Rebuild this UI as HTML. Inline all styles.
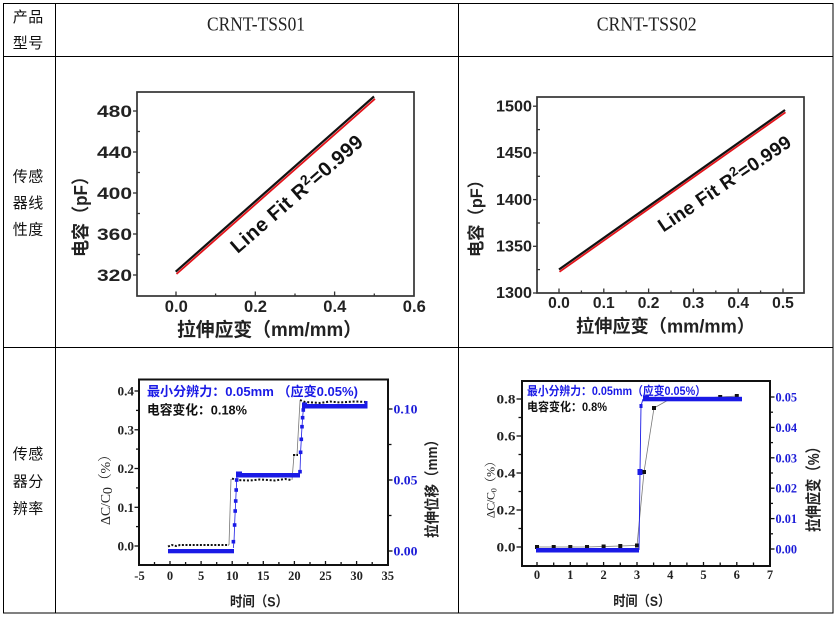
<!DOCTYPE html>
<html><head><meta charset="utf-8"><style>
html,body{margin:0;padding:0;background:#fff;}
svg{display:block;}
.s{font-family:"Liberation Sans","Noto Sans CJK SC",sans-serif;}
.b{font-weight:bold;}
.t{font-family:"Liberation Serif","Noto Serif CJK SC",serif;}
.c{font-family:"Noto Sans CJK SC","Liberation Sans",sans-serif;}
</style></head><body>
<svg width="837" height="617" viewBox="0 0 837 617" xmlns="http://www.w3.org/2000/svg">
<rect width="837" height="617" fill="#fff"/>
<!-- table -->
<g stroke="#000" stroke-width="1" fill="none">
<rect x="3.5" y="3.5" width="829.5" height="609.5"/>
<line x1="55.5" y1="3" x2="55.5" y2="613"/>
<line x1="458.5" y1="3" x2="458.5" y2="613"/>
<line x1="3" y1="56.5" x2="833" y2="56.5"/>
<line x1="3" y1="347.5" x2="833" y2="347.5"/>
</g>
<!-- left column -->
<g class="c" font-size="15" fill="#111">
<text x="12.7" y="22" textLength="30.6">产品</text>
<text x="12.7" y="48" textLength="30.6">型号</text>
<text x="12.7" y="181.5" textLength="30.6">传感</text>
<text x="12.7" y="208" textLength="30.6">器线</text>
<text x="12.7" y="234.5" textLength="30.6">性度</text>
<text x="12.7" y="459" textLength="30.6">传感</text>
<text x="12.7" y="486.5" textLength="30.6">器分</text>
<text x="12.7" y="513.5" textLength="30.6">辨率</text>
</g>
<!-- headers -->
<g class="t" font-size="20" fill="#222" text-anchor="middle">
<text x="256" y="30.5" textLength="98" lengthAdjust="spacingAndGlyphs">CRNT-TSS01</text>
<text x="646.7" y="30.5" textLength="100" lengthAdjust="spacingAndGlyphs">CRNT-TSS02</text>
</g>

<!-- ============ Chart 1 ============ -->
<rect x="137" y="92" width="277" height="204" fill="none" stroke="#333" stroke-width="1.7"/>
<g stroke="#333" stroke-width="1.3">
<line x1="176" y1="296" x2="176" y2="291.5"/>
<line x1="255.3" y1="296" x2="255.3" y2="291.5"/>
<line x1="334.6" y1="296" x2="334.6" y2="291.5"/>
<line x1="215.6" y1="296" x2="215.6" y2="293.5"/>
<line x1="295" y1="296" x2="295" y2="293.5"/>
<line x1="374.3" y1="296" x2="374.3" y2="293.5"/>
<line x1="133" y1="111" x2="137" y2="111"/>
<line x1="133" y1="152" x2="137" y2="152"/>
<line x1="133" y1="193" x2="137" y2="193"/>
<line x1="133" y1="234" x2="137" y2="234"/>
<line x1="133" y1="275" x2="137" y2="275"/>
<line x1="137" y1="131.5" x2="140" y2="131.5"/>
<line x1="137" y1="172.5" x2="140" y2="172.5"/>
<line x1="137" y1="213.5" x2="140" y2="213.5"/>
<line x1="137" y1="254.5" x2="140" y2="254.5"/>
</g>
<line x1="175.7" y1="271.7" x2="374" y2="96.5" stroke="#111" stroke-width="2.2"/>
<line x1="176.5" y1="274" x2="375" y2="98.8" stroke="#e3141b" stroke-width="1.8"/>
<g class="s b" font-size="17" fill="#222" text-anchor="end">
<text x="132" y="117" textLength="35" lengthAdjust="spacingAndGlyphs">480</text>
<text x="132" y="158" textLength="35" lengthAdjust="spacingAndGlyphs">440</text>
<text x="132" y="199" textLength="35" lengthAdjust="spacingAndGlyphs">400</text>
<text x="132" y="240" textLength="35" lengthAdjust="spacingAndGlyphs">360</text>
<text x="132" y="281" textLength="35" lengthAdjust="spacingAndGlyphs">320</text>
</g>
<g class="s b" font-size="17" fill="#222" text-anchor="middle">
<text x="176.3" y="312" textLength="23" lengthAdjust="spacingAndGlyphs">0.0</text>
<text x="255.5" y="312" textLength="23" lengthAdjust="spacingAndGlyphs">0.2</text>
<text x="334.8" y="312" textLength="23" lengthAdjust="spacingAndGlyphs">0.4</text>
<text x="414.3" y="312" textLength="23" lengthAdjust="spacingAndGlyphs">0.6</text>
<text x="269.5" y="336" font-size="19" textLength="185" lengthAdjust="spacingAndGlyphs">拉伸应变（mm/mm）</text>
<text transform="translate(87,212.5) rotate(-90)" font-size="18" textLength="89" lengthAdjust="spacingAndGlyphs">电容（pF）</text>
</g>
<text class="s b" font-size="20" fill="#111" text-anchor="middle" transform="translate(301,199) rotate(-41)" textLength="168">Line Fit R<tspan font-size="14" dy="-7">2</tspan><tspan dy="7">=0.999</tspan></text>

<!-- ============ Chart 2 ============ -->
<rect x="537" y="97" width="267" height="196" fill="none" stroke="#333" stroke-width="1.7"/>
<g stroke="#333" stroke-width="1.3">
<line x1="559" y1="293" x2="559" y2="288.5"/>
<line x1="603.8" y1="293" x2="603.8" y2="288.5"/>
<line x1="648.6" y1="293" x2="648.6" y2="288.5"/>
<line x1="693.4" y1="293" x2="693.4" y2="288.5"/>
<line x1="738.2" y1="293" x2="738.2" y2="288.5"/>
<line x1="783" y1="293" x2="783" y2="288.5"/>
<line x1="581.4" y1="293" x2="581.4" y2="290.5"/>
<line x1="626.2" y1="293" x2="626.2" y2="290.5"/>
<line x1="671" y1="293" x2="671" y2="290.5"/>
<line x1="715.8" y1="293" x2="715.8" y2="290.5"/>
<line x1="760.6" y1="293" x2="760.6" y2="290.5"/>
<line x1="533" y1="293" x2="537" y2="293"/>
<line x1="533" y1="246.3" x2="537" y2="246.3"/>
<line x1="533" y1="199.6" x2="537" y2="199.6"/>
<line x1="533" y1="152.9" x2="537" y2="152.9"/>
<line x1="533" y1="106.2" x2="537" y2="106.2"/>
<line x1="537" y1="269.6" x2="540" y2="269.6"/>
<line x1="537" y1="223" x2="540" y2="223"/>
<line x1="537" y1="176.3" x2="540" y2="176.3"/>
<line x1="537" y1="129.6" x2="540" y2="129.6"/>
</g>
<line x1="559" y1="269.5" x2="785" y2="110" stroke="#111" stroke-width="2.2"/>
<line x1="559.5" y1="271.8" x2="785.5" y2="112.3" stroke="#e3141b" stroke-width="1.8"/>
<g class="s b" font-size="15.5" fill="#222" text-anchor="end">
<text x="532" y="111.5" textLength="36" lengthAdjust="spacingAndGlyphs">1500</text>
<text x="532" y="158.2" textLength="36" lengthAdjust="spacingAndGlyphs">1450</text>
<text x="532" y="204.9" textLength="36" lengthAdjust="spacingAndGlyphs">1400</text>
<text x="532" y="251.6" textLength="36" lengthAdjust="spacingAndGlyphs">1350</text>
<text x="532" y="298" textLength="36" lengthAdjust="spacingAndGlyphs">1300</text>
</g>
<g class="s b" font-size="15.5" fill="#222" text-anchor="middle">
<text x="559" y="308" textLength="21.7" lengthAdjust="spacingAndGlyphs">0.0</text>
<text x="603.8" y="308" textLength="21.7" lengthAdjust="spacingAndGlyphs">0.1</text>
<text x="648.6" y="308" textLength="21.7" lengthAdjust="spacingAndGlyphs">0.2</text>
<text x="693.4" y="308" textLength="21.7" lengthAdjust="spacingAndGlyphs">0.3</text>
<text x="738.2" y="308" textLength="21.7" lengthAdjust="spacingAndGlyphs">0.4</text>
<text x="783" y="308" textLength="21.7" lengthAdjust="spacingAndGlyphs">0.5</text>
<text x="665.5" y="332.5" font-size="18" textLength="179" lengthAdjust="spacingAndGlyphs">拉伸应变（mm/mm）</text>
<text transform="translate(482,214.5) rotate(-90)" font-size="17" textLength="85" lengthAdjust="spacingAndGlyphs">电容（pF）</text>
</g>
<text class="s b" font-size="19" fill="#111" text-anchor="middle" transform="translate(728,189) rotate(-34)" textLength="156">Line Fit R<tspan font-size="13" dy="-7">2</tspan><tspan dy="7">=0.999</tspan></text>

<!-- ============ Chart 3 (bottom-left) ============ -->
<g stroke="#111" stroke-width="1.3">
<line x1="170" y1="565" x2="170" y2="561"/>
<line x1="201.1" y1="565" x2="201.1" y2="561"/>
<line x1="232.2" y1="565" x2="232.2" y2="561"/>
<line x1="263.3" y1="565" x2="263.3" y2="561"/>
<line x1="294.4" y1="565" x2="294.4" y2="561"/>
<line x1="325.5" y1="565" x2="325.5" y2="561"/>
<line x1="356.6" y1="565" x2="356.6" y2="561"/>
<line x1="154.5" y1="565" x2="154.5" y2="562"/>
<line x1="185.6" y1="565" x2="185.6" y2="562"/>
<line x1="216.7" y1="565" x2="216.7" y2="562"/>
<line x1="247.8" y1="565" x2="247.8" y2="562"/>
<line x1="278.9" y1="565" x2="278.9" y2="562"/>
<line x1="310" y1="565" x2="310" y2="562"/>
<line x1="341.1" y1="565" x2="341.1" y2="562"/>
<line x1="372.2" y1="565" x2="372.2" y2="562"/>
<line x1="134.5" y1="546" x2="139" y2="546"/>
<line x1="134.5" y1="507.3" x2="139" y2="507.3"/>
<line x1="134.5" y1="468.5" x2="139" y2="468.5"/>
<line x1="134.5" y1="429.8" x2="139" y2="429.8"/>
<line x1="134.5" y1="391" x2="139" y2="391"/>
<line x1="136" y1="526.6" x2="139" y2="526.6"/>
<line x1="136" y1="487.9" x2="139" y2="487.9"/>
<line x1="136" y1="449.1" x2="139" y2="449.1"/>
<line x1="136" y1="410.4" x2="139" y2="410.4"/>
<line x1="388" y1="551" x2="392.5" y2="551"/>
<line x1="388" y1="515.5" x2="391.5" y2="515.5"/>
<line x1="388" y1="480" x2="392.5" y2="480"/>
<line x1="388" y1="444.5" x2="391.5" y2="444.5"/>
<line x1="388" y1="409" x2="392.5" y2="409"/>
</g>
<g fill="none">
<polyline points="229,545 231,479" stroke="#777" stroke-width="0.8"/>
<polyline points="292,480 294,455 297,455 300,401" stroke="#777" stroke-width="0.8"/>
<polyline points="168,546.5 172,545 176,546 180,545 229,545" stroke="#111" stroke-width="2" stroke-dasharray="2 1.6"/>
<polyline points="232,478.5 236,480 250,480.5 260,479.5 275,480.5 285,479 291,480" stroke="#111" stroke-width="2" stroke-dasharray="2 1.8"/>
<polyline points="293,455 298,455" stroke="#111" stroke-width="2" stroke-dasharray="2 1.5"/>
<polyline points="300,400 305,402 320,403 330,401.5 340,402.5 355,401.5 367,402" stroke="#111" stroke-width="2" stroke-dasharray="2 1.8"/>
</g>
<g fill="#1a1ae6">
<polyline points="233.3,548 234,541.7 234.6,525 235.2,511 235.7,501 236.2,490 236.7,480 237.2,475 299.3,474 300,471.7 300.6,452.3 301.3,439.3 302,426.7 302.6,417.7 303.3,410 304,405" fill="none" stroke="#1a1ae6" stroke-width="0.8"/>
<rect x="168" y="549" width="66" height="4.3"/>
<rect x="231.6" y="539.9" width="3.6" height="3.6"/>
<rect x="232.8" y="523.2" width="3.6" height="3.6"/>
<rect x="233.4" y="509.2" width="3.6" height="3.6"/>
<rect x="233.9" y="499.2" width="3.6" height="3.6"/>
<rect x="234.4" y="488.2" width="3.6" height="3.6"/>
<rect x="234.9" y="478.2" width="3.6" height="3.6"/>
<rect x="236" y="473" width="64" height="4.5"/>
<rect x="236" y="471.5" width="6" height="5"/>
<rect x="298.2" y="469.9" width="3.6" height="3.6"/>
<rect x="298.8" y="450.5" width="3.6" height="3.6"/>
<rect x="299.5" y="437.5" width="3.6" height="3.6"/>
<rect x="300.2" y="424.9" width="3.6" height="3.6"/>
<rect x="300.8" y="415.9" width="3.6" height="3.6"/>
<rect x="301.5" y="408.2" width="3.6" height="3.6"/>
<rect x="302" y="404" width="65" height="4.5"/>
<rect x="302" y="402.5" width="5" height="5"/>
<rect x="364.5" y="401" width="3" height="7.5"/>
</g>
<rect x="139" y="379.5" width="249" height="185.5" fill="none" stroke="#111" stroke-width="2"/>
<g class="t b" font-size="12.5" fill="#222" text-anchor="end">
<text x="134" y="550.5" textLength="16.5" lengthAdjust="spacingAndGlyphs">0.0</text>
<text x="134" y="511.8" textLength="16.5" lengthAdjust="spacingAndGlyphs">0.1</text>
<text x="134" y="473" textLength="16.5" lengthAdjust="spacingAndGlyphs">0.2</text>
<text x="134" y="434.3" textLength="16.5" lengthAdjust="spacingAndGlyphs">0.3</text>
<text x="134" y="395.5" textLength="16.5" lengthAdjust="spacingAndGlyphs">0.4</text>
</g>
<g class="t b" font-size="13" fill="#1c1cd8">
<text x="393.5" y="555.5" textLength="24" lengthAdjust="spacingAndGlyphs">0.00</text>
<text x="393.5" y="484.5" textLength="24" lengthAdjust="spacingAndGlyphs">0.05</text>
<text x="393.5" y="413.5" textLength="24" lengthAdjust="spacingAndGlyphs">0.10</text>
</g>
<g class="t b" font-size="12.5" fill="#222" text-anchor="middle">
<text x="139.5" y="580">-5</text>
<text x="170" y="580">0</text>
<text x="201.1" y="580">5</text>
<text x="232.2" y="580">10</text>
<text x="263.3" y="580">15</text>
<text x="294.4" y="580">20</text>
<text x="325.5" y="580">25</text>
<text x="356.6" y="580">30</text>
<text x="387.7" y="580">35</text>
</g>
<text class="s b" font-size="14" fill="#222" text-anchor="middle" x="259" y="606.5" textLength="58" lengthAdjust="spacingAndGlyphs">时间（S）</text>
<text class="t" font-size="14" fill="#222" text-anchor="middle" transform="translate(110,486.5) rotate(-90)" textLength="77">ΔC/C<tspan dy="2">0</tspan><tspan dy="-2">（%）</tspan></text>
<text class="s b" font-size="15" fill="#222" text-anchor="middle" transform="translate(437,485.5) rotate(-90)" textLength="105" lengthAdjust="spacingAndGlyphs">拉伸位移（mm）</text>
<text class="s b" font-size="13" fill="#1a1ae6" x="147" y="396" textLength="211" lengthAdjust="spacingAndGlyphs">最小分辨力：0.05mm （应变0.05%)</text>
<text class="s b" font-size="13" fill="#111" x="147" y="414.5" textLength="100" lengthAdjust="spacingAndGlyphs">电容变化：0.18%</text>

<!-- ============ Chart 4 (bottom-right) ============ -->
<g stroke="#111" stroke-width="1.3">
<line x1="537" y1="566" x2="537" y2="562"/>
<line x1="553.7" y1="566" x2="553.7" y2="562.5"/>
<line x1="570.3" y1="566" x2="570.3" y2="562"/>
<line x1="587" y1="566" x2="587" y2="562.5"/>
<line x1="603.6" y1="566" x2="603.6" y2="562"/>
<line x1="620.3" y1="566" x2="620.3" y2="562.5"/>
<line x1="637" y1="566" x2="637" y2="562"/>
<line x1="653.6" y1="566" x2="653.6" y2="562.5"/>
<line x1="670.2" y1="566" x2="670.2" y2="562"/>
<line x1="686.9" y1="566" x2="686.9" y2="562.5"/>
<line x1="703.5" y1="566" x2="703.5" y2="562"/>
<line x1="720.2" y1="566" x2="720.2" y2="562.5"/>
<line x1="736.8" y1="566" x2="736.8" y2="562"/>
<line x1="753.5" y1="566" x2="753.5" y2="562.5"/>
<line x1="516.5" y1="547" x2="522" y2="547"/>
<line x1="516.5" y1="510" x2="522" y2="510"/>
<line x1="516.5" y1="473" x2="522" y2="473"/>
<line x1="516.5" y1="436" x2="522" y2="436"/>
<line x1="516.5" y1="399" x2="522" y2="399"/>
<line x1="518.5" y1="528.5" x2="522" y2="528.5"/>
<line x1="518.5" y1="491.5" x2="522" y2="491.5"/>
<line x1="518.5" y1="454.5" x2="522" y2="454.5"/>
<line x1="518.5" y1="417.5" x2="522" y2="417.5"/>
<line x1="770" y1="549" x2="774.5" y2="549"/>
<line x1="770" y1="518.6" x2="774.5" y2="518.6"/>
<line x1="770" y1="488.2" x2="774.5" y2="488.2"/>
<line x1="770" y1="457.8" x2="774.5" y2="457.8"/>
<line x1="770" y1="427.4" x2="774.5" y2="427.4"/>
<line x1="770" y1="397" x2="774.5" y2="397"/>
<line x1="770" y1="533.8" x2="773" y2="533.8"/>
<line x1="770" y1="503.4" x2="773" y2="503.4"/>
<line x1="770" y1="473" x2="773" y2="473"/>
<line x1="770" y1="442.6" x2="773" y2="442.6"/>
<line x1="770" y1="412.2" x2="773" y2="412.2"/>
</g>
<polyline points="537,547 553.7,547 570.3,547 587,547 603.6,546.5 620.3,546 637,545.5 644,472 654,408 670,399 687,398 703.5,398 720.2,397 736.8,396" fill="none" stroke="#777" stroke-width="0.8"/>
<g fill="#111">
<rect x="535" y="545" width="4" height="4"/>
<rect x="551.7" y="545" width="4" height="4"/>
<rect x="568.3" y="545" width="4" height="4"/>
<rect x="585" y="545" width="4" height="4"/>
<rect x="601.6" y="544.5" width="4" height="4"/>
<rect x="618.3" y="544" width="4" height="4"/>
<rect x="635" y="543.5" width="4" height="4"/>
<rect x="642" y="470" width="4" height="4"/>
<rect x="652" y="406" width="4" height="4"/>
<rect x="718.2" y="395" width="4" height="4"/>
<rect x="734.8" y="394" width="4" height="4"/>
</g>
<polyline points="639,550 640,472 641,406 643,399" fill="none" stroke="#1a1ae6" stroke-width="0.9"/>
<g fill="#1a1ae6">
<rect x="536" y="548" width="103" height="4.5"/>
<rect x="637.5" y="469" width="5" height="6"/>
<rect x="639.5" y="404" width="3" height="4"/>
<rect x="643" y="396.8" width="99" height="4.5"/>
<rect x="643" y="395.5" width="6" height="5.5"/>
</g>
<rect x="522" y="381" width="248" height="185" fill="none" stroke="#111" stroke-width="2"/>
<g class="t b" font-size="12.5" fill="#222" text-anchor="end">
<text x="515.5" y="551.5" textLength="19" lengthAdjust="spacingAndGlyphs">0.0</text>
<text x="515.5" y="514.5" textLength="19" lengthAdjust="spacingAndGlyphs">0.2</text>
<text x="515.5" y="477.5" textLength="19" lengthAdjust="spacingAndGlyphs">0.4</text>
<text x="515.5" y="440.5" textLength="19" lengthAdjust="spacingAndGlyphs">0.6</text>
<text x="515.5" y="403.5" textLength="19" lengthAdjust="spacingAndGlyphs">0.8</text>
</g>
<g class="t b" font-size="12.5" fill="#1c1cd8">
<text x="775.5" y="553.5" textLength="21.5" lengthAdjust="spacingAndGlyphs">0.00</text>
<text x="775.5" y="523.1" textLength="21.5" lengthAdjust="spacingAndGlyphs">0.01</text>
<text x="775.5" y="492.7" textLength="21.5" lengthAdjust="spacingAndGlyphs">0.02</text>
<text x="775.5" y="462.3" textLength="21.5" lengthAdjust="spacingAndGlyphs">0.03</text>
<text x="775.5" y="431.9" textLength="21.5" lengthAdjust="spacingAndGlyphs">0.04</text>
<text x="775.5" y="401.5" textLength="21.5" lengthAdjust="spacingAndGlyphs">0.05</text>
</g>
<g class="t b" font-size="12.5" fill="#222" text-anchor="middle">
<text x="537" y="579">0</text>
<text x="570.3" y="579">1</text>
<text x="603.6" y="579">2</text>
<text x="637" y="579">3</text>
<text x="670.2" y="579">4</text>
<text x="703.5" y="579">5</text>
<text x="736.8" y="579">6</text>
<text x="770" y="579">7</text>
</g>
<text class="s b" font-size="14" fill="#222" text-anchor="middle" x="641.7" y="606" textLength="57" lengthAdjust="spacingAndGlyphs">时间（S）</text>
<text class="t" font-size="12" fill="#222" text-anchor="middle" transform="translate(494.5,486.7) rotate(-90)" textLength="63">ΔC/C<tspan font-size="8" dy="2">0</tspan><tspan dy="-2">（%）</tspan></text>
<text class="s b" font-size="16" fill="#222" text-anchor="middle" transform="translate(819,486) rotate(-90)" textLength="92" lengthAdjust="spacingAndGlyphs">拉伸应变（%）</text>
<text class="s b" font-size="12" fill="#1a1ae6" x="527" y="395" textLength="179" lengthAdjust="spacingAndGlyphs">最小分辨力：0.05mm（应变0.05%）</text>
<text class="s b" font-size="12" fill="#111" x="527" y="411" textLength="80" lengthAdjust="spacingAndGlyphs">电容变化：0.8%</text>
</svg>
</body></html>
